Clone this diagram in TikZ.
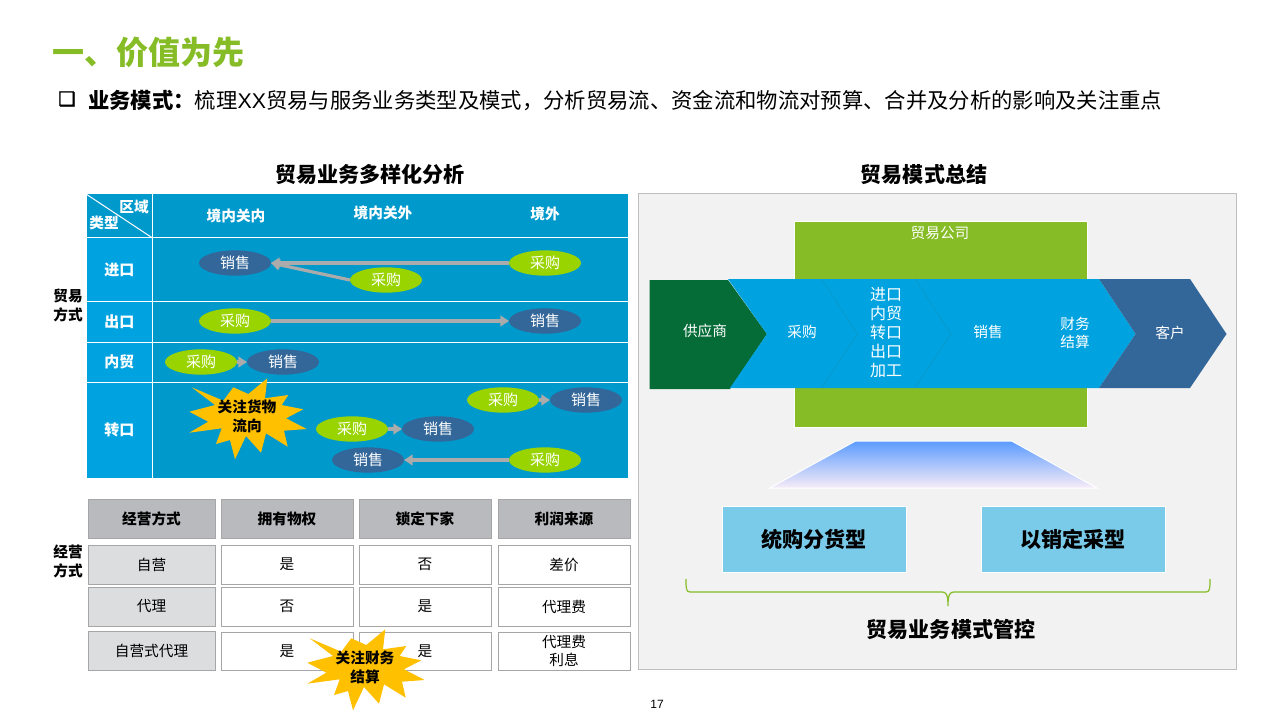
\documentclass[tikz,border=0pt]{standalone}
\usepackage{fontspec}
\setmainfont{Noto Sans CJK SC}
\newfontfamily\dejavufont[FakeBold=1.6]{DejaVu Sans}
\newfontfamily\arialfont{Liberation Sans}
\usetikzlibrary{shapes.geometric,arrows.meta}
\definecolor{cellblue}{HTML}{0099CC}
\definecolor{headblue}{HTML}{00A3E0}
\definecolor{seamblue}{HTML}{0A96C8}
\definecolor{navyoval}{HTML}{336699}
\definecolor{limeoval}{HTML}{99D400}
\definecolor{titlegreen}{HTML}{86BC25}
\definecolor{darkgreen}{HTML}{056B37}
\definecolor{skyblock}{HTML}{7ACAEA}
\definecolor{starcol}{HTML}{FFC000}
\definecolor{edgegray}{HTML}{A6A6A6}
\definecolor{arrowgray}{HTML}{ABABAB}
\definecolor{trapetop}{HTML}{5B9BFF}
\definecolor{trapebot}{HTML}{F7ECF7}
\definecolor{headgray}{HTML}{B9BABE}
\definecolor{keygray}{HTML}{DCDDDF}
\tikzset{
  x=0.75pt,y=-0.75pt,
  boxbase/.style={draw,rectangle,inner sep=0pt,outer sep=0pt,align=center},
  gridcell/.style={boxbase,draw=white,line width=0.75pt,text=white,font=\fontsize{11.25}{14.25}\selectfont\bfseries},
  headcell/.style={gridcell,fill=headblue},
  bodycell/.style={gridcell,fill=cellblue},
  oval/.style={ellipse,inner sep=0pt,outer sep=0pt,minimum width=54pt,minimum height=19pt,text=white,font=\fontsize{11.25}{14.25}\selectfont},
  saleoval/.style={oval,fill=navyoval},
  buyoval/.style={oval,fill=limeoval},
  flowarrow/.style={draw=arrowgray,line width=2.4pt,-{Triangle[length=6.5pt,width=8pt]}},
  tablebox/.style={boxbase,draw=edgegray,line width=0.6pt,text=black,font=\fontsize{11}{14}\selectfont},
  tablehead/.style={tablebox,fill=headgray,font=\fontsize{11}{14}\selectfont\bfseries},
  tablekey/.style={tablebox,fill=keygray},
  tabledata/.style={tablebox,fill=white},
  lbl/.style={inner sep=0pt,align=center,text=white,font=\fontsize{11}{14.25}\selectfont},
  blacklbl/.style={inner sep=0pt,align=center,text=black,font=\fontsize{11}{14.25}\selectfont\bfseries},
  sectitle/.style={inner sep=0pt,text=black,font=\fontsize{15.8}{19}\selectfont\bfseries},
  skybox/.style={boxbase,draw=white,line width=0.75pt,fill=skyblock,text=black,font=\fontsize{15.8}{19}\selectfont\bfseries},
  burst/.style={fill=starcol,draw=none},
}
\newcommand{\bx}[7]{%
  \pgfmathsetmacro{\bxcx}{(#2+#4)/2}%
  \pgfmathsetmacro{\bxcy}{(#3+#5)/2}%
  \pgfmathsetmacro{\bxw}{(#4-#2)*0.75}%
  \pgfmathsetmacro{\bxh}{(#5-#3)*0.75}%
  \node[#6,minimum width=\bxw pt,minimum height=\bxh pt] (#1) at (\bxcx,\bxcy) {#7};}
\newcommand{\burstpath}[1]{%
  \fill[burst,shift={(#1)}] (267.3,378.3)--(265,398.3)--(288.3,395)--(281.7,405)--(303.3,409.3)--(286,418.3)--(306.7,429)--(284,430.7)--(287.7,446.7)--(266,433.3)--(261,452.7)--(246,436)--(235,459.3)--(230,440)--(216,444)--(221.7,428.3)--(189.3,432.7)--(208.3,421.7)--(189.3,411.7)--(215,405)--(191.7,387.3)--(223.3,400.7)--(233.3,387.3)--(248.3,394)--cycle;}
\begin{document}
\begin{tikzpicture}
\useasboundingbox (0,0) rectangle (1280,720);
\fill[white] (0,0) rectangle (1280,720);

% header
\node[inner sep=0pt,anchor=west,text=titlegreen,font=\fontsize{24}{28}\selectfont\bfseries] (maintitle) at (52,52) {一、价值为先};
\node[inner sep=0pt,anchor=center,font=\fontsize{14.5}{16}\dejavufont\bfseries] (bullet) at (67,99) {❑};
\node[inner sep=0pt,anchor=west,text=black,font=\fontsize{16}{19}\selectfont] (subtitle) at (88,100) {\textbf{业务模式：}梳理{\arialfont XX}贸易与服务业务类型及模式，分析贸易流、资金流和物流对预算、合并及分析的影响及关注重点};

% left titles
\node[sectitle] (ltitle) at (370,175) {贸易业务多样化分析};
\node[sectitle] (rtitle) at (924,175) {贸易模式总结};
\node[blacklbl] (side1) at (68,305) {贸易\\方式};
\node[blacklbl] (side2) at (68,561) {经营\\方式};

% upper grid
\bx{corner}{86}{194}{152.5}{238}{bodycell}{}
\bx{topbody}{152.5}{194}{628}{238}{bodycell}{}
\bx{imhead}{86}{238}{152.5}{301}{headcell}{进口}
\bx{imbody}{152.5}{238}{628}{301}{bodycell}{}
\bx{exhead}{86}{301}{152.5}{342}{headcell}{出口}
\bx{exbody}{152.5}{301}{628}{342}{bodycell}{}
\bx{dohead}{86}{342}{152.5}{382}{headcell}{内贸}
\bx{dobody}{152.5}{342}{628}{382}{bodycell}{}
\bx{trhead}{86}{382}{152.5}{478}{headcell}{转口}
\bx{trbody}{152.5}{382}{628}{478}{bodycell}{}
\draw[white,line width=0.75pt] (corner.north west) -- (corner.south east);
\node[lbl,font=\fontsize{11}{14}\selectfont\bfseries] (region) at (134,207) {区域};
\node[lbl,font=\fontsize{11}{14}\selectfont\bfseries] (kind) at (104,223) {类型};
\node[lbl,font=\fontsize{11}{14}\selectfont\bfseries] (c1) at (236,216) {境内关内};
\node[lbl,font=\fontsize{11}{14}\selectfont\bfseries] (c2) at (383,213) {境内关外};
\node[lbl,font=\fontsize{11}{14}\selectfont\bfseries] (c3) at (545,214) {境外};

% ovals
\node[saleoval] (s1) at (235,263) {销售};
\node[buyoval] (b1) at (545,263) {采购};
\node[buyoval] (b2) at (386,280) {采购};
\node[buyoval] (b3) at (235,321) {采购};
\node[saleoval] (s3) at (545,321) {销售};
\node[buyoval] (b4) at (201,362) {采购};
\node[saleoval] (s4) at (283,362) {销售};
\node[buyoval] (b5) at (503,400) {采购};
\node[saleoval] (s5) at (586,400) {销售};
\node[buyoval] (b6) at (352,429) {采购};
\node[saleoval] (s6) at (438,429) {销售};
\node[saleoval] (s7) at (368,460) {销售};
\node[buyoval] (b7) at (545,460) {采购};
\draw[flowarrow] (b1.west) -- (s1.east);
\draw[flowarrow] (b2.west) -- (s1.east);
\draw[flowarrow] (b3.east) -- (s3.west);
\draw[flowarrow] (b4.east) -- (s4.west);
\draw[flowarrow] (b5.east) -- (s5.west);
\draw[flowarrow] (b6.east) -- (s6.west);
\draw[flowarrow] (b7.west) -- (s7.east);
\burstpath{0,0}
\node[blacklbl] (star1) at (247,416) {关注货物\\流向};

% lower table
\bx{h1}{88}{499}{215}{538}{tablehead}{经营方式}
\bx{h2}{221}{499}{353}{538}{tablehead}{拥有物权}
\bx{h3}{359}{499}{491}{538}{tablehead}{锁定下家}
\bx{h4}{498}{499}{630}{538}{tablehead}{利润来源}
\bx{k1}{88}{545}{215}{584}{tablekey}{自营}
\bx{d11}{221}{545}{353}{584}{tabledata}{是}
\bx{d12}{359}{545}{491}{584}{tabledata}{否}
\bx{d13}{498}{545}{630}{584}{tabledata}{差价}
\bx{k2}{88}{587}{215}{626}{tablekey}{代理}
\bx{d21}{221}{587}{353}{626}{tabledata}{否}
\bx{d22}{359}{587}{491}{626}{tabledata}{是}
\bx{d23}{498}{587}{630}{626}{tabledata}{代理费}
\bx{k3}{88}{631}{215}{670}{tablekey}{自营式代理}
\bx{d31}{221}{632}{353}{670}{tabledata}{是}
\bx{d32}{359}{632}{491}{670}{tabledata}{是}
\bx{d33}{498}{632}{630}{670}{tabledata,font=\fontsize{11}{13}\selectfont}{代理费\\利息}
\burstpath{118,251}
\node[blacklbl] (star2) at (365,667) {关注财务\\结算};

% right panel
\bx{panel}{638.5}{193.5}{1236.5}{669.5}{boxbase,draw=black!25,fill=black!5,line width=0.75pt}{}
\bx{company}{794}{221}{1087}{427}{boxbase,draw=white,fill=titlegreen,line width=0.4pt}{}
\node[lbl] (companylbl) at (940,233) {贸易公司};
\fill[darkgreen] (649.5,280)--(728,280)--(767,334)--(730,389)--(649.5,389)--cycle;
\fill[headblue] (728,279)--(1099,279)--(1135.6,334)--(1099,388)--(730,388)--(767,334)--cycle;
\fill[navyoval] (1099,279)--(1190,279)--(1226.5,334)--(1190,388)--(1099,388)--(1135.6,334)--cycle;
\draw[seamblue,line width=0.4pt] (821.7,279)--(857.5,334)--(821.7,388);
\draw[seamblue,line width=0.4pt] (915,279)--(951,334)--(915,388);
\node[lbl] (supplier) at (705,331) {供应商};
\node[lbl] (buy) at (802,332) {采购};
\node[lbl,font=\fontsize{12}{14.25}\selectfont] (types) at (886,333) {进口\\内贸\\转口\\出口\\加工};
\node[lbl] (sell) at (988,332) {销售};
\node[lbl,font=\fontsize{11}{13}\selectfont] (settle) at (1075,333) {财务\\结算};
\node[lbl] (client) at (1170,333) {客户};
\draw[white,line width=0.75pt,top color=trapetop,bottom color=trapebot] (855.5,441)--(1011.6,441)--(1097,488)--(769.7,488)--cycle;
\bx{type1}{722}{506}{906}{572}{skybox}{统购分货型}
\bx{type2}{981}{506}{1165}{572}{skybox}{以销定采型}
\coordinate (braceL) at (686,579);
\coordinate (braceR) at (1210,579);
\coordinate (braceTip) at (948,606);
\draw[titlegreen,line width=0.9pt] (braceL) .. controls (686,588) and (686,592) .. (690,592) -- (942,592) .. controls (946,592) and (948,594) .. (braceTip) .. controls (948,594) and (950,592) .. (954,592) -- (1206,592) .. controls (1210,592) and (1210,588) .. (braceR);
\node[sectitle] (mgmt) at (951,629) {贸易业务模式管控};
\node[inner sep=0pt,text=black,font=\fontsize{9}{11}\arialfont] (pageno) at (657,704) {17};
\end{tikzpicture}
\end{document}
